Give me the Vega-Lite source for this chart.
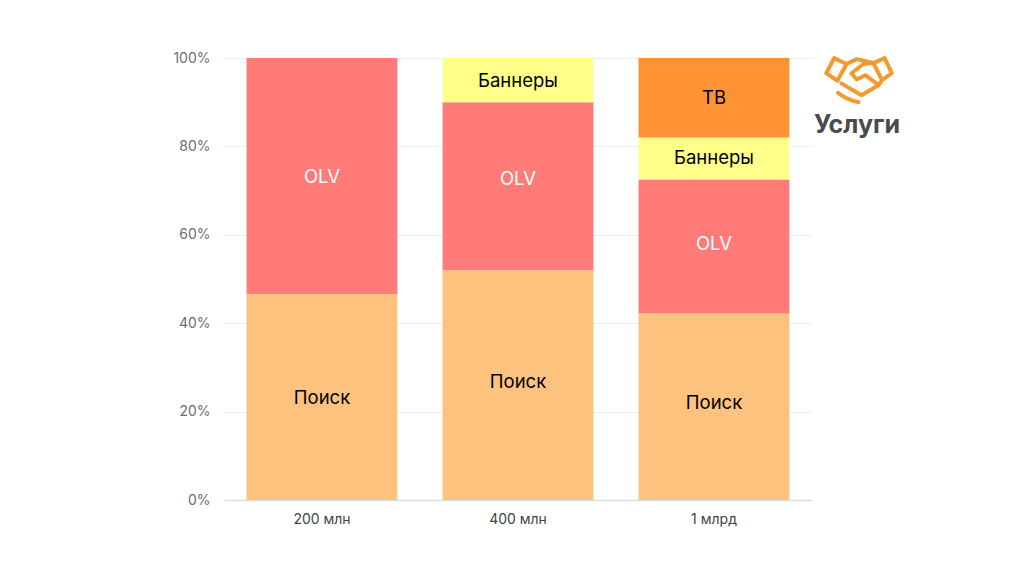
{
  "$schema": "https://vega.github.io/schema/vega-lite/v6.json",
  "description": "Доля каналов в рекламном бюджете",
  "width": 588,
  "height": 442,
  "autosize": {"type": "none"},
  "padding": {"left": 224, "top": 58, "right": 212, "bottom": 75},
  "background": "white",
  "config": {
    "font": "Inter",
    "view": {"stroke": null}
  },
  "datasets": {
    "shares": [
      {"budget": "200 млн", "channel": "Поиск", "rank": 1, "share": 46.6},
      {"budget": "200 млн", "channel": "OLV", "rank": 2, "share": 53.4},
      {"budget": "400 млн", "channel": "Поиск", "rank": 1, "share": 52},
      {"budget": "400 млн", "channel": "OLV", "rank": 2, "share": 38},
      {"budget": "400 млн", "channel": "Баннеры", "rank": 3, "share": 10},
      {"budget": "1 млрд", "channel": "Поиск", "rank": 1, "share": 42.2},
      {"budget": "1 млрд", "channel": "OLV", "rank": 2, "share": 30.3},
      {"budget": "1 млрд", "channel": "Баннеры", "rank": 3, "share": 9.5},
      {"budget": "1 млрд", "channel": "ТВ", "rank": 4, "share": 18}
    ],
    "labels": [
      {"budget": "200 млн", "channel": "Поиск", "at": 23.3},
      {"budget": "200 млн", "channel": "OLV", "at": 73.3},
      {"budget": "400 млн", "channel": "Поиск", "at": 26.9},
      {"budget": "400 млн", "channel": "OLV", "at": 72.9},
      {"budget": "400 млн", "channel": "Баннеры", "at": 95},
      {"budget": "1 млрд", "channel": "Поиск", "at": 22.2},
      {"budget": "1 млрд", "channel": "OLV", "at": 58.1},
      {"budget": "1 млрд", "channel": "Баннеры", "at": 77.6},
      {"budget": "1 млрд", "channel": "ТВ", "at": 91.2}
    ],
    "logo": [
      {"name": "Услуги", "across": 1.08, "icon": 95, "word": 84.8}
    ]
  },
  "layer": [
    {
      "encoding": {
        "x": {
          "field": "budget",
          "type": "nominal",
          "sort": ["200 млн", "400 млн", "1 млрд"],
          "title": null,
          "scale": {"paddingInner": 0.23, "paddingOuter": 0.115},
          "axis": {
            "labelAngle": 0,
            "labelFontSize": 14,
            "labelColor": "#444444",
            "labelPadding": 12,
            "ticks": false,
            "domainColor": "#dddddd",
            "domainWidth": 1.5,
            "grid": false
          }
        }
      },
      "layer": [
        {
          "data": {"name": "shares"},
          "mark": {"type": "bar"},
          "encoding": {
            "y": {
              "field": "share",
              "type": "quantitative",
              "stack": "zero",
              "title": null,
              "scale": {"domain": [0, 100]},
              "axis": {
                "values": [0, 20, 40, 60, 80, 100],
                "labelExpr": "datum.value + '%'",
                "labelFontSize": 14,
                "labelColor": "#6e6e6e",
                "labelPadding": 14,
                "ticks": false,
                "domain": false,
                "gridColor": "#eeeeee"
              }
            },
            "order": {"field": "rank", "type": "quantitative"},
            "color": {
              "field": "channel",
              "type": "nominal",
              "legend": null,
              "scale": {
                "domain": ["Поиск", "OLV", "Баннеры", "ТВ"],
                "range": ["#fdc27e", "#ff7b78", "#ffff8a", "#ff9233"]
              }
            }
          }
        },
        {
          "data": {"name": "labels"},
          "mark": {"type": "text", "baseline": "middle", "fontSize": 18.5, "dy": 1},
          "encoding": {
            "y": {"field": "at", "type": "quantitative", "title": null},
            "text": {"field": "channel"},
            "color": {
              "condition": {"test": "datum.channel === 'OLV'", "value": "white"},
              "value": "black"
            }
          }
        }
      ]
    },
    {
      "data": {"name": "logo"},
      "encoding": {
        "x": {"field": "across", "type": "quantitative", "scale": {"domain": [0, 1]}, "axis": null}
      },
      "layer": [
        {
          "mark": {
            "type": "point",
            "filled": false,
            "clip": false,
            "stroke": "#f39a2e",
            "strokeWidth": 4,
            "strokeJoin": "round",
            "strokeCap": "round",
            "opacity": 1,
            "size": 4300,
            "shape": "M-1,-0.21L-0.66,0.02L-0.38,-0.49L-0.76,-0.67ZM0.44,-0.52L0.78,-0.67L1,-0.21L0.7,0ZM-0.38,-0.49L-0.07,-0.64L0.44,-0.52M0.44,-0.52L0.13,-0.49L-0.23,-0.21L-0.07,-0.02L0.19,-0.15L0.6,0.15L0.08,0.46L-0.54,0.1M0.6,0.15L0.7,0M-0.64,0.39Q-0.33,0.62,-0.02,0.67"
          },
          "encoding": {
            "y": {"field": "icon", "type": "quantitative", "title": null}
          }
        },
        {
          "mark": {"type": "text", "fontSize": 25, "fontWeight": 700, "color": "#4a4a4a", "baseline": "middle", "dx": -2},
          "encoding": {
            "y": {"field": "word", "type": "quantitative", "title": null},
            "text": {"field": "name"}
          }
        }
      ]
    }
  ],
  "resolve": {"scale": {"x": "independent"}}
}
